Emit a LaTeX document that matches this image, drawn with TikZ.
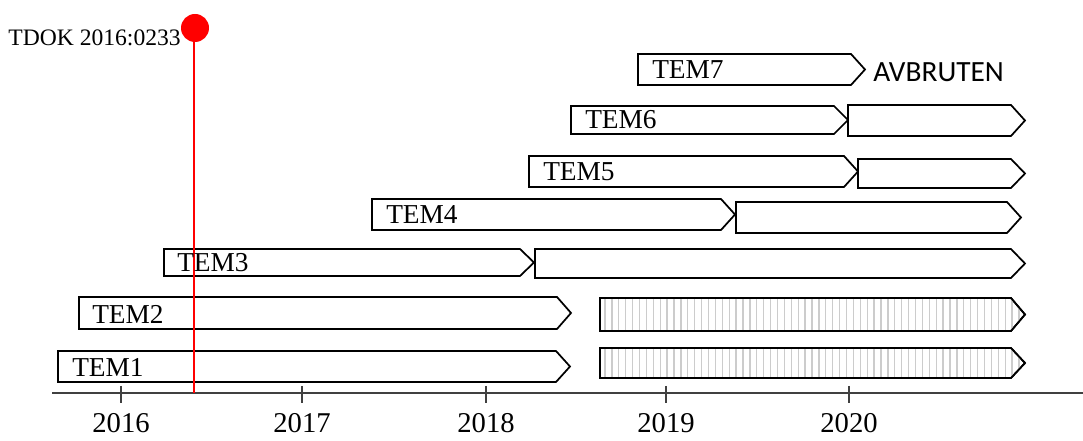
\documentclass[tikz,border=0pt]{standalone}
\usepackage{fontspec}
\setmainfont{Liberation Serif}
\newfontfamily\calib{Carlito}
\tikzset{
  barline/.style={draw=black, line width=1.3pt, line join=miter, fill=white},
  temlabel/.style={anchor=west, inner sep=0pt, font=\fontsize{20.5pt}{24pt}\selectfont},
  yearlabel/.style={anchor=base, inner sep=0pt, font=\fontsize{21.5pt}{25pt}\selectfont},
  axisline/.style={draw=black!75, line width=1pt},
  tickline/.style={draw=black!75, line width=0.8pt},
  hatchline/.style={draw=black!20, line width=1pt},
  redline/.style={draw=red, line width=1.8pt},
}
% #1 left, #2 tip x, #3 top, #4 bottom
\newcommand{\tembar}[4]{%
  \draw[barline] (#1,#3) -- ({#2-14},#3) -- (#2,{(#3+#4)/2}) -- ({#2-14},#4) -- (#1,#4) -- cycle;}
\newcommand{\hatchbar}[4]{%
  \draw[barline] (#1,#3) -- ({#2-14},#3) -- (#2,{(#3+#4)/2}) -- ({#2-14},#4) -- (#1,#4) -- cycle;
  \begin{scope}
    \clip (#1,#3) -- ({#2-14},#3) -- (#2,{(#3+#4)/2}) -- ({#2-14},#4) -- (#1,#4) -- cycle;
    \foreach \k in {0,...,61} \draw[hatchline] ({#1+5+6.9*\k},#3) -- ({#1+5+6.9*\k},#4);
  \end{scope}
  \draw[barline, fill=none] (#1,#3) -- ({#2-14},#3) -- (#2,{(#3+#4)/2}) -- ({#2-14},#4) -- (#1,#4) -- cycle;}
\begin{document}
\begin{tikzpicture}[x=0.75pt,y=-0.75pt]
\useasboundingbox (0,0) rectangle (1083,441);
% axis
\draw[axisline] (52,393) -- (1083,393);
\foreach \tx/\yr [count=\i] in {121/2016,302/2017,486/2018,666/2019,849/2020} {
  \draw[tickline] (\tx,386) -- (\tx,403);
  \node[yearlabel] (year\i) at (\tx,433) {\yr};
}
% bars
\tembar{58}{570}{351}{382}
\hatchbar{600}{1025}{348}{378}
\tembar{79}{571}{297}{329}
\hatchbar{600}{1025}{298}{331}
\tembar{164}{534}{249}{276}
\tembar{535}{1025}{249}{278}
\tembar{372}{735}{199}{230}
\tembar{736}{1021}{202}{233}
\tembar{529}{858}{156}{187}
\tembar{858}{1025}{159}{188}
\tembar{571}{848}{106}{134}
\tembar{848}{1025}{105}{136}
\tembar{638}{865}{54}{85}
% red marker
\draw[redline] (194,27) -- (194,393);
\node[circle, fill=red, minimum size=28pt*0.75, inner sep=0pt] (marker) at (195,28) {};
\node[anchor=east, inner sep=0pt, font=\fontsize{17.7pt}{20pt}\selectfont] (tdok) at (181,38) {TDOK 2016:0233};
% labels
\node[temlabel] (tem1) at (72,367) {TEM1};
\node[temlabel] (tem2) at (92,314) {TEM2};
\node[temlabel] (tem3) at (177,263) {TEM3};
\node[temlabel] (tem4) at (386,215) {TEM4};
\node[temlabel] (tem5) at (543,172) {TEM5};
\node[temlabel] (tem6) at (585,120) {TEM6};
\node[temlabel] (tem7) at (652,70) {TEM7};
\node[anchor=west, inner sep=0pt, font=\calib\fontsize{22pt}{26pt}\selectfont] (avbruten) at (873,72) {AVBRUTEN};
\end{tikzpicture}
\end{document}
